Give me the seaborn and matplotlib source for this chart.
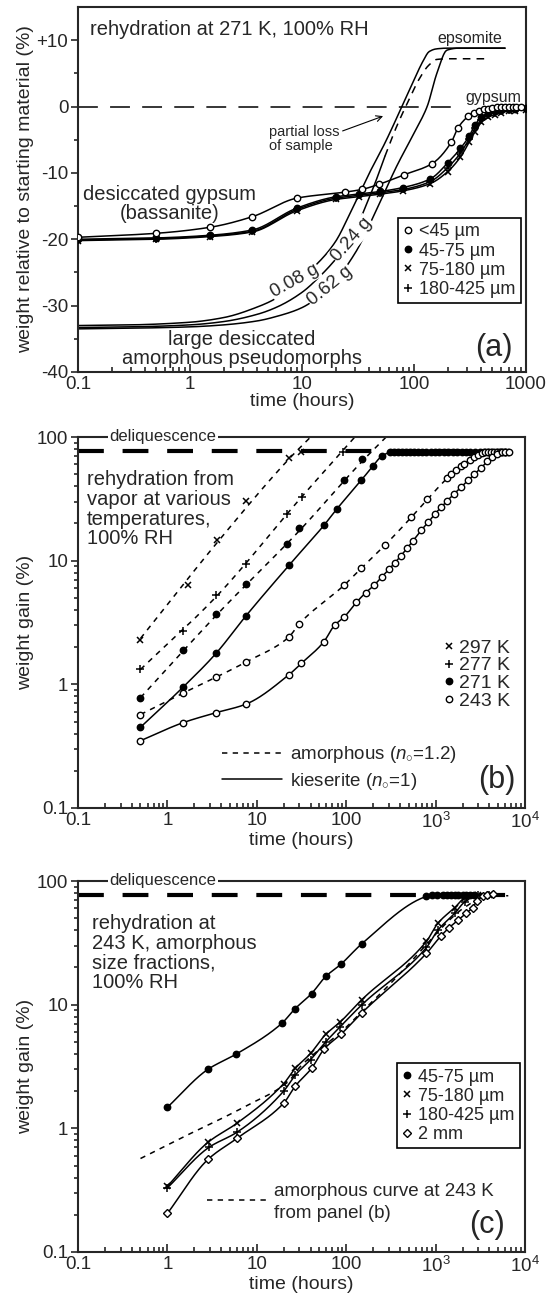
import numpy as np
import pandas as pd
import matplotlib
matplotlib.use("Agg")
import matplotlib.pyplot as plt
from matplotlib.lines import Line2D
import seaborn as sns

# ---------------- DATA ----------------
# panel (a): desiccated gypsum size fractions (time h, weight %)
a_lt45_t = [0.1, 0.5, 1.5, 3.6, 9, 24, 34, 49, 81, 145, 215, 247, 303, 340, 380, 420, 460, 500, 550, 600, 650, 700, 760, 820, 900]
a_lt45_v = [-19.7, -19.1, -18.2, -16.6, -13.8, -12.9, -12.5, -11.7, -10.3, -8.6, -5.4, -3.2, -1.5, -0.9, -0.6, -0.4, -0.3, -0.2, -0.1, -0.1, 0.0, 0.0, 0.0, 0.0, 0.0]
a_45_t = [0.1, 0.5, 1.5, 3.6, 9, 20, 32, 50, 80, 140, 200, 260, 310, 350, 400, 460, 530, 600, 700, 800, 1000]
a_45_v = [-20.0, -19.8, -19.4, -18.6, -15.3, -13.6, -13.2, -12.8, -12.2, -10.9, -8.5, -6.3, -4.5, -2.8, -1.6, -1.0, -0.7, -0.5, -0.4, -0.3, -0.2]
a_75_t = a_45_t
a_75_v = [-20.2, -20.0, -19.6, -18.9, -15.7, -14.0, -13.6, -13.2, -12.7, -11.6, -9.8, -7.6, -5.4, -3.8, -2.4, -1.6, -1.2, -0.9, -0.7, -0.6, -0.5]
a_180_t = a_45_t
a_180_v = [-20.1, -19.9, -19.5, -18.8, -15.5, -13.8, -13.4, -13.0, -12.5, -11.3, -9.2, -7.0, -4.9, -3.3, -2.0, -1.3, -0.9, -0.7, -0.5, -0.4, -0.3]
# large amorphous pseudomorphs
a_008_t = [0.1, 0.3, 1, 2, 4, 6, 9, 14, 20, 27, 40, 55, 78, 100, 120, 137, 160, 200, 300, 500, 650]
a_008_v = [-33.0, -32.9, -32.5, -31.8, -30.2, -28.8, -26.3, -23.5, -20.3, -16.0, -10.0, -5.5, 0.0, 4.0, 6.8, 8.3, 8.7, 8.8, 8.8, 8.8, 8.8]
a_024_t = [0.1, 0.3, 1, 2, 4, 6, 10, 15, 20, 28, 35, 45, 55]
a_024_v = [-33.3, -33.2, -32.9, -32.4, -31.3, -30.2, -28.0, -25.3, -23.0, -19.8, -16.0, -11.5, -7.5]
a_024loss_t = [55, 70, 90, 110, 135, 160, 200, 300, 450]
a_024loss_v = [-7.5, -3.0, 1.0, 4.0, 6.2, 7.1, 7.2, 7.2, 7.2]
a_062_t = [0.1, 0.3, 1, 2, 4, 6, 10, 18, 30, 45, 70, 100, 131, 160, 197, 250, 400, 650]
a_062_v = [-33.5, -33.4, -33.2, -32.9, -32.3, -31.6, -30.3, -27.0, -22.0, -16.0, -9.0, -4.0, 0.0, 5.0, 8.5, 8.8, 8.8, 8.8]

# panel (b): rehydration from vapor at various temperatures
b297_t = [0.5, 1.7, 3.6, 7.5, 22.7, 31.6]
b297_v = [2.3, 6.3, 14.7, 30.4, 67.6, 75.5]
b297fit_t = [0.5, 3.6, 22.7, 40]
b297fit_v = [2.35, 14.0, 66.0, 100]
b277_t = [0.5, 1.5, 3.5, 7.5, 22, 32, 91]
b277_v = [1.32, 2.69, 5.26, 9.4, 24, 33, 76]
b277fit_t = [0.5, 3.5, 32, 125]
b277fit_v = [1.32, 5.1, 33, 100]
b271a_t = [0.5, 1.5, 3.5, 7.5, 22, 30, 94, 152]
b271a_v = [0.78, 1.88, 3.7, 6.45, 13.6, 18.3, 44.8, 66]
b271afit_t = [0.5, 3.5, 30, 152, 280]
b271afit_v = [0.78, 3.6, 17.5, 64, 100]
b271k_t = [0.5, 1.5, 3.5, 7.5, 23, 57, 78, 148, 198, 250, 306, 340, 380, 420, 470, 520, 580, 640, 710, 790, 880, 980,
           1100, 1230, 1380, 1550, 1750, 1950, 2200, 2450, 2750, 3100, 3450, 3850, 4300, 4800, 5300, 5900]
b271k_v = [0.45, 0.95, 1.78, 3.55, 9.2, 19.5, 26, 44.8, 58, 70, 75] + [76] * 27
b243a_t = [0.5, 1.5, 3.5, 7.5, 22.7, 30, 94, 148, 270, 537, 810, 1350, 1500, 1700, 1900, 2100, 2400, 2700, 3000, 3300,
           3600, 3900, 4200, 4500, 4800, 5200, 5600, 6000, 6500]
b243a_v = [0.57, 0.85, 1.14, 1.51, 2.4, 3.1, 6.3, 8.7, 13.3, 22.5, 31.4, 46.5, 50, 54, 58, 61, 65, 69, 72, 74,
           75.5, 76, 76, 76, 76, 76, 76, 76, 76]
b243k_t = [0.5, 1.5, 3.5, 7.5, 23, 31.6, 56, 74, 95, 130, 165, 204, 250, 300, 350, 407, 480, 560, 690, 830, 980, 1150,
           1350, 1600, 1940, 2300, 2720, 3200, 3800, 4300, 4800, 5500, 6000, 6600]
b243k_v = [0.35, 0.49, 0.59, 0.69, 1.2, 1.48, 2.2, 3.0, 3.5, 4.6, 5.5, 6.3, 7.4, 8.5, 9.6, 10.9, 12.6, 14.5, 17.6, 20.5,
           23.8, 27, 30.5, 34.5, 39.4, 44.5, 50, 56, 63.5, 69, 73, 75.5, 76, 76]

# panel (c): 243 K amorphous size fractions
c45_t = [1, 2.84, 5.8, 19, 26.5, 41, 59, 87, 149, 790, 920, 1050, 1200, 1350, 1500, 1650, 1800, 2000, 2200, 2450, 2700]
c45_v = [1.48, 3.0, 3.96, 7.05, 9.2, 12.3, 16.9, 21.2, 31, 75] + [77] * 11
c75_t = [1, 2.84, 6, 20, 27, 40, 59, 85, 150, 790, 1060, 1640, 2130, 3000, 4000]
c75_v = [0.34, 0.77, 1.1, 2.3, 3.06, 4.04, 5.75, 7.2, 11, 32.5, 45.5, 61, 73, 77, 77]
c180_t = [1, 2.9, 6, 20, 27, 40, 59, 85, 150, 790, 1060, 1640, 2130, 3000, 4000]
c180_v = [0.33, 0.70, 0.93, 2.0, 2.7, 3.6, 5.0, 6.6, 10, 29, 40, 55, 68, 77, 77]
c2mm_t = [1, 2.84, 6, 20, 27, 41, 57, 87, 150, 790, 1150, 1420, 1770, 2200, 2600, 2900, 3400, 3800, 4400]
c2mm_v = [0.205, 0.56, 0.83, 1.6, 2.2, 3.06, 4.4, 5.75, 8.6, 26, 36, 42, 48, 55, 61, 69, 75, 77, 78]

deliquescence = 77
size_labels_a = ["<45 µm", "45-75 µm", "75-180 µm", "180-425 µm"]
temp_labels = ["297 K", "277 K", "271 K", "243 K"]
size_labels_c = ["45-75 µm", "75-180 µm", "180-425 µm", "2 mm"]

# ---------------- STYLE ----------------
sns.set_style("ticks")
plt.rcParams["font.family"] = ["Liberation Sans", "DejaVu Sans"]
plt.rcParams["mathtext.fontset"] = "custom"
plt.rcParams["mathtext.rm"] = "Liberation Sans"
plt.rcParams["mathtext.it"] = "Liberation Sans:italic"
plt.rcParams["axes.linewidth"] = 1.5

K = "black"


def pchip(x, y, xn):
    x = np.asarray(x, float); y = np.asarray(y, float)
    h = np.diff(x); d = np.diff(y) / h
    n = len(x)
    m = np.zeros(n)
    m[0] = d[0]; m[-1] = d[-1]
    for k in range(1, n - 1):
        if d[k - 1] * d[k] <= 0:
            m[k] = 0.0
        else:
            w1 = 2 * h[k] + h[k - 1]; w2 = h[k] + 2 * h[k - 1]
            m[k] = (w1 + w2) / (w1 / d[k - 1] + w2 / d[k])
    idx = np.clip(np.searchsorted(x, xn) - 1, 0, n - 2)
    hh = h[idx]; s = (xn - x[idx]) / hh
    h00 = 2 * s**3 - 3 * s**2 + 1; h10 = s**3 - 2 * s**2 + s
    h01 = -2 * s**3 + 3 * s**2; h11 = s**3 - s**2
    return h00 * y[idx] + h10 * hh * m[idx] + h01 * y[idx + 1] + h11 * hh * m[idx + 1]


def smooth(t, v, logy):
    x = np.log10(t)
    y = np.log10(v) if logy else np.asarray(v, float)
    xn = np.linspace(x[0], x[-1], 300)
    yn = pchip(x, y, xn)
    return 10**xn, (10**yn if logy else yn)


def curve(ax, t, v, logy=False, lw=1.1, dashes=None):
    tt, vv = smooth(t, v, logy)
    sns.lineplot(x=tt, y=vv, ax=ax, color=K, lw=lw, estimator=None, sort=False, legend=False)
    if dashes is not None:
        ax.lines[-1].set_dashes(dashes)


def mk(kind):
    kw = dict(marker="o", markersize=4.6, markerfacecolor=K, markeredgewidth=1.0)
    if kind == "open":
        kw.update(markerfacecolor="white")
    elif kind == "x":
        kw = dict(marker="x", markersize=5, markeredgewidth=1.1)
    elif kind == "+":
        kw = dict(marker="+", markersize=6, markeredgewidth=1.1)
    elif kind == "diamond":
        kw = dict(marker="D", markersize=4.2, markerfacecolor="white", markeredgewidth=1.0)
    return kw


def marks(ax, t, v, kind):
    sns.lineplot(x=t, y=v, ax=ax, color=K, linestyle="none", markeredgecolor=K,
                 estimator=None, sort=False, legend=False, zorder=4, **mk(kind))


def handle(kind):
    return Line2D([], [], color=K, linestyle="none", markeredgecolor=K, **mk(kind))


fig = plt.figure(figsize=(5.5, 13.04), dpi=100)
axA = fig.add_axes([78 / 550, 1 - 372 / 1304, 448 / 550, 365 / 1304])
axB = fig.add_axes([78 / 550, 1 - 808 / 1304, 447 / 550, 371 / 1304])
axC = fig.add_axes([78 / 550, 1 - 1252 / 1304, 447 / 550, 371 / 1304])

FS = 13       # tick labels
LS = 14       # axis labels
TS = 14.5     # annotations

# ---------------- PANEL (a) ----------------
ax = axA
ax.set_xscale("log")
zl = ax.axhline(0, xmin=0, xmax=0.85, color=K, lw=1.1)
zl.set_dashes((13, 8))
for t, v, kind in [(a_45_t, a_45_v, "filled"), (a_75_t, a_75_v, "x"), (a_180_t, a_180_v, "+"), (a_lt45_t, a_lt45_v, "open")]:
    curve(ax, t, v)
    marks(ax, t, v, kind)
curve(ax, a_008_t, a_008_v)
curve(ax, a_024_t, a_024_v)
curve(ax, a_024loss_t, a_024loss_v, dashes=(5, 4))
curve(ax, a_062_t, a_062_v)

ax.set_xlim(0.1, 1000)
ax.set_ylim(-40, 15)
ax.set_yticks([-40, -30, -20, -10, 0, 10])
ax.set_yticklabels(["-40", "-30", "-20", "-10", "0", "+10"])
ax.set_yticks([-35, -25, -15, -5, 5], minor=True)
ax.set_xticks([0.1, 1, 10, 100, 1000])
ax.set_xticklabels(["0.1", "1", "10", "100", "1000"])
ax.set_ylabel("weight relative to starting material (%)", fontsize=LS, labelpad=2)
ax.set_xlabel("time (hours)", fontsize=LS, labelpad=0)

box = dict(facecolor="white", edgecolor="none", pad=0.5)
ax.text(8.66, -26.3, "0.08 g", rotation=29, fontsize=13.5, ha="center", va="center", bbox=box, zorder=5, rotation_mode="anchor")
ax.text(27.9, -20.0, "0.24 g", rotation=49, fontsize=13.5, ha="center", va="center", bbox=box, zorder=5, rotation_mode="anchor")
ax.text(17.8, -27.0, "0.62 g", rotation=39, fontsize=13.5, ha="center", va="center", bbox=box, zorder=5, rotation_mode="anchor")

ax.text(0.027, 0.937, "rehydration at 271 K, 100% RH", transform=ax.transAxes, fontsize=TS, va="center")
ax.text(0.875, 0.915, "epsomite", transform=ax.transAxes, fontsize=11.5, ha="center", va="center")
ax.text(0.926, 0.753, "gypsum", transform=ax.transAxes, fontsize=11.5, ha="center", va="center")
ax.annotate("partial loss\nof sample", xy=(0.681, 0.701), xytext=(0.426, 0.638),
            xycoords="axes fraction", textcoords="axes fraction", fontsize=10.5,
            ha="left", va="center", linespacing=1.0,
            arrowprops=dict(arrowstyle="->", color=K, lw=0.8, shrinkA=0, shrinkB=0,
                            relpos=(1.0, 0.75)))
ax.text(0.205, 0.46, "desiccated gypsum\n(bassanite)", transform=ax.transAxes, fontsize=TS,
        ha="center", va="center", linespacing=1.0)
ax.text(0.366, 0.062, "large desiccated\namorphous pseudomorphs", transform=ax.transAxes, fontsize=TS,
        ha="center", va="center", linespacing=1.0)
ax.text(0.929, 0.066, "(a)", transform=ax.transAxes, fontsize=22, ha="center", va="center")
lg = ax.legend([handle("open"), handle("filled"), handle("x"), handle("+")], size_labels_a,
               loc="upper right", bbox_to_anchor=(0.989, 0.422), fontsize=13, frameon=True,
               fancybox=False, edgecolor=K, framealpha=1, handlelength=0.6, handletextpad=0.3,
               labelspacing=0.12, borderpad=0.3, borderaxespad=0)
lg.get_frame().set_linewidth(1.2)

# ---------------- PANEL (b) ----------------
ax = axB
ax.set_xscale("log"); ax.set_yscale("log")
dl = ax.axhline(deliquescence, xmin=0, xmax=0.97, color=K, lw=3)
dl.set_dashes((6.2, 4.5))
curve(ax, b297fit_t, b297fit_v, logy=True, dashes=(3.5, 3.5))
curve(ax, b277fit_t, b277fit_v, logy=True, dashes=(3.5, 3.5))
curve(ax, b271afit_t, b271afit_v, logy=True, dashes=(3.5, 3.5))
curve(ax, b243a_t, b243a_v, logy=True, dashes=(3.5, 3.5))
curve(ax, b271k_t, b271k_v, logy=True)
curve(ax, b243k_t, b243k_v, logy=True)
marks(ax, b297_t, b297_v, "x")
marks(ax, b277_t, b277_v, "+")
marks(ax, b271a_t, b271a_v, "filled")
marks(ax, b271k_t, b271k_v, "filled")
marks(ax, b243a_t, b243a_v, "open")
marks(ax, b243k_t, b243k_v, "open")

ax.text(0.020, 0.911, "rehydration from\nvapor at various\ntemperatures,\n100% RH", transform=ax.transAxes,
        fontsize=TS, va="top", ha="left", linespacing=1.05)
lg1 = ax.legend([handle("x"), handle("+"), handle("filled"), handle("open")], temp_labels,
                loc="upper right", bbox_to_anchor=(0.966, 0.455), fontsize=14, frameon=False,
                handlelength=0.6, handletextpad=0.2, labelspacing=0.0, borderaxespad=0, borderpad=0)
ax.add_artist(lg1)
h_am = Line2D([], [], color=K, lw=1.1, dashes=(3.5, 3.5))
h_ki = Line2D([], [], color=K, lw=1.1)
ax.legend([h_am, h_ki], [r"amorphous ($\it{n}_{\circ}$=1.2)", r"kieserite ($\it{n}_{\circ}$=1)"],
          loc="upper left", bbox_to_anchor=(0.322, 0.172), fontsize=13.5, frameon=False,
          handlelength=3.2, handletextpad=0.45, labelspacing=0.3, borderaxespad=0, borderpad=0)
ax.text(0.937, 0.075, "(b)", transform=ax.transAxes, fontsize=22, ha="center", va="center")
ax.set_ylabel("weight gain (%)", fontsize=LS, labelpad=2)
ax.set_xlabel("time (hours)", fontsize=LS, labelpad=0)

# ---------------- PANEL (c) ----------------
ax = axC
ax.set_xscale("log"); ax.set_yscale("log")
dl = ax.axhline(deliquescence, xmin=0, xmax=0.97, color=K, lw=3)
dl.set_dashes((6.2, 4.5))
curve(ax, b243a_t, b243a_v, logy=True, dashes=(3.5, 3.5))
for t, v, kind in [(c45_t, c45_v, "filled"), (c75_t, c75_v, "x"), (c180_t, c180_v, "+"), (c2mm_t, c2mm_v, "diamond")]:
    curve(ax, t, v, logy=True)
    marks(ax, t, v, kind)
ax.text(0.031, 0.911, "rehydration at\n243 K, amorphous\nsize fractions,\n100% RH", transform=ax.transAxes,
        fontsize=TS, va="top", ha="left", linespacing=1.05)
lg2 = ax.legend([handle("filled"), handle("x"), handle("+"), handle("diamond")], size_labels_c,
                loc="upper right", bbox_to_anchor=(0.989, 0.509), fontsize=13, frameon=True,
                fancybox=False, edgecolor=K, framealpha=1, handlelength=0.6, handletextpad=0.3,
                labelspacing=0.12, borderpad=0.3, borderaxespad=0)
lg2.get_frame().set_linewidth(1.2)
ax.add_artist(lg2)
ax.legend([Line2D([], [], color=K, lw=1.1, dashes=(3.5, 3.5))], [" "],
          loc="center left", bbox_to_anchor=(0.289, 0.135), fontsize=13.5, frameon=False,
          handlelength=3.2, handletextpad=0.0, borderaxespad=0, borderpad=0)
ax.text(0.438, 0.162, "amorphous curve at 243 K", transform=ax.transAxes, fontsize=13.5, ha="left", va="center")
ax.text(0.438, 0.105, "from panel (b)", transform=ax.transAxes, fontsize=13.5, ha="left", va="center")
ax.text(0.915, 0.072, "(c)", transform=ax.transAxes, fontsize=22, ha="center", va="center")
ax.set_ylabel("weight gain (%)", fontsize=LS, labelpad=2)
ax.set_xlabel("time (hours)", fontsize=LS, labelpad=0)

for ax in (axB, axC):
    ax.set_xlim(0.1, 1e4)
    ax.set_ylim(0.1, 100)
    ax.set_xticks([0.1, 1, 10, 100, 1e3, 1e4])
    ax.set_xticklabels(["0.1", "1", "10", "100", r"10$^3$", r"10$^4$"])
    ax.set_yticks([0.1, 1, 10, 100])
    ax.set_yticklabels(["0.1", "1", "10", "100"])
    ax.text(0.19, 1.0, "deliquescence", transform=ax.transAxes, fontsize=12, ha="center", va="center",
            bbox=dict(facecolor="white", edgecolor="none", pad=1), zorder=6, clip_on=False)

for ax in (axA, axB, axC):
    for s in ax.spines.values():
        s.set_linewidth(1.5)
    ax.tick_params(axis="x", which="both", direction="in", labelsize=FS + 0.5, pad=3, width=1.2)
    ax.tick_params(axis="x", which="major", length=6)
    ax.tick_params(axis="x", which="minor", length=3.5)
    ax.tick_params(axis="y", which="both", direction="out", labelsize=FS + 0.5, pad=2, width=1.2)
    ax.tick_params(axis="y", which="major", length=5)
    ax.tick_params(axis="y", which="minor", length=3)

fig.savefig("out.png", dpi=100)
